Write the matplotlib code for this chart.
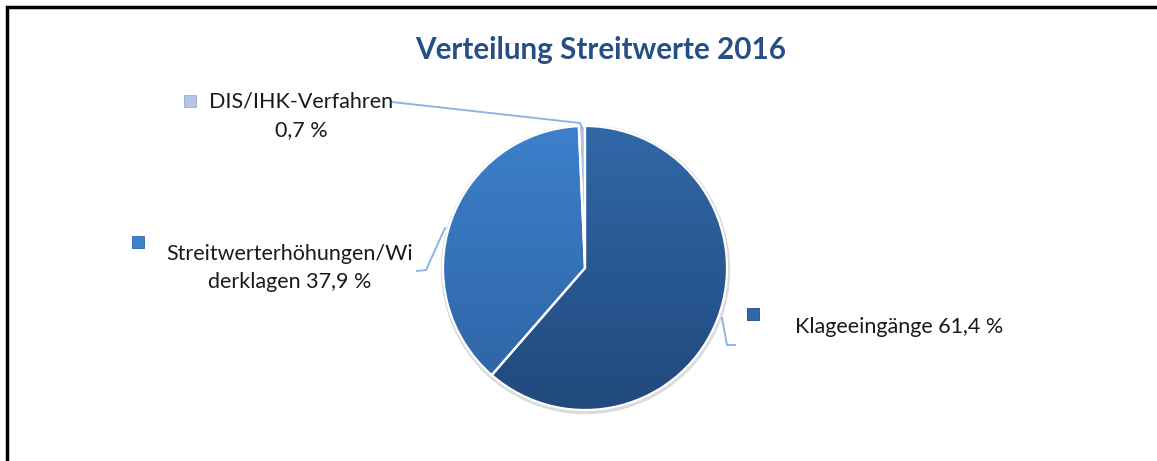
import matplotlib.pyplot as plt
import numpy as np
from matplotlib.colors import LinearSegmentedColormap
from matplotlib.patches import Rectangle

# Daten
categories = ["Klageeingänge", "Streitwerterhöhungen/Wi\nderklagen", "DIS/IHK-Verfahren"]
values = [61.4, 37.9, 0.7]
value_labels = ["61,4 %", "37,9 %", "0,7 %"]
label_sep = [" ", " ", "\n"]
# Farbverlauf je Segment (oben, unten)
grad_colors = [("#3068A8", "#21497C"), ("#3D80CC", "#2D62A2"), ("#B4C6E2", "#98AED2")]

W, H = 1157, 461
plt.rcParams['font.family'] = ['Lato', 'DejaVu Sans']

fig = plt.figure(figsize=(W / 100, H / 100), dpi=100)
ax = fig.add_axes([0, 0, 1, 1])

def P(x, y):
    # Pixelkoordinaten (y nach unten) -> Datenkoordinaten
    return x, H - y

cx, cy = P(585, 268)
r = 142

wedges, _ = ax.pie(values, startangle=90, counterclock=False, center=(cx, cy), radius=r,
                   colors=[c[0] for c in grad_colors],
                   wedgeprops=dict(edgecolor="white", linewidth=1.6))

# Farbverlauf in die Segmente legen
grad = np.linspace(0, 1, 256).reshape(-1, 1)
for w, (c_top, c_bot) in zip(wedges, grad_colors):
    cmap = LinearSegmentedColormap.from_list("g", [c_top, c_bot])
    im = ax.imshow(grad, cmap=cmap, extent=[cx - r, cx + r, cy - r, cy + r],
                   origin="upper", aspect="auto", zorder=w.get_zorder() + 0.1)
    im.set_clip_path(w)
    w.set_facecolor("none")
    w.set_zorder(w.get_zorder() + 0.2)

# dezenter Schatten
ax.add_patch(plt.Circle((cx + 0.5, cy - 1.5), r + 2, color="#dcdcdc", zorder=0))

ax.set_xlim(0, W)
ax.set_ylim(0, H)
ax.set_aspect("auto")
ax.axis("off")

line_col = "#8EB4E3"
# Führungslinien
ax.plot(*zip(P(392, 102), P(580, 123), P(582, 128)), color=line_col, lw=1.4, zorder=5)
ax.plot(*zip(P(417, 271), P(426, 270), P(445, 228)), color=line_col, lw=1.4, zorder=5)
ax.plot(*zip(P(722, 318), P(727, 345), P(735, 345)), color=line_col, lw=1.4, zorder=5)

# Beschriftungen
label_pos = [(795, 327, "left"), (290, 268, "center"), (301, 116, "center")]
square_pos = [(753, 314), (138, 242), (190, 101)]
for i in range(len(values)):
    x, y, ha = label_pos[i]
    ax.text(*P(x, y), categories[i] + label_sep[i] + value_labels[i], ha=ha, va="center",
            fontsize=15.5, color="#1a1a1a", linespacing=1.5, zorder=6)
    sx, sy = square_pos[i]
    ax.add_patch(Rectangle(P(sx - 6, sy + 6), 12, 12, facecolor=grad_colors[i][0],
                           edgecolor=grad_colors[i][1], lw=0.6, zorder=6))

ax.text(*P(601, 50), "Verteilung Streitwerte 2016", ha="center", va="center",
        fontsize=21.3, fontweight="bold", color="#264F85")

# Rahmen (rechts/unten abgeschnitten)
fig.patches.append(Rectangle((7 / W, -0.2), 1.2, 1 - 7 / H + 0.2, transform=fig.transFigure,
                             fill=False, edgecolor="black", lw=2.5))

plt.savefig("out.png", dpi=100)
